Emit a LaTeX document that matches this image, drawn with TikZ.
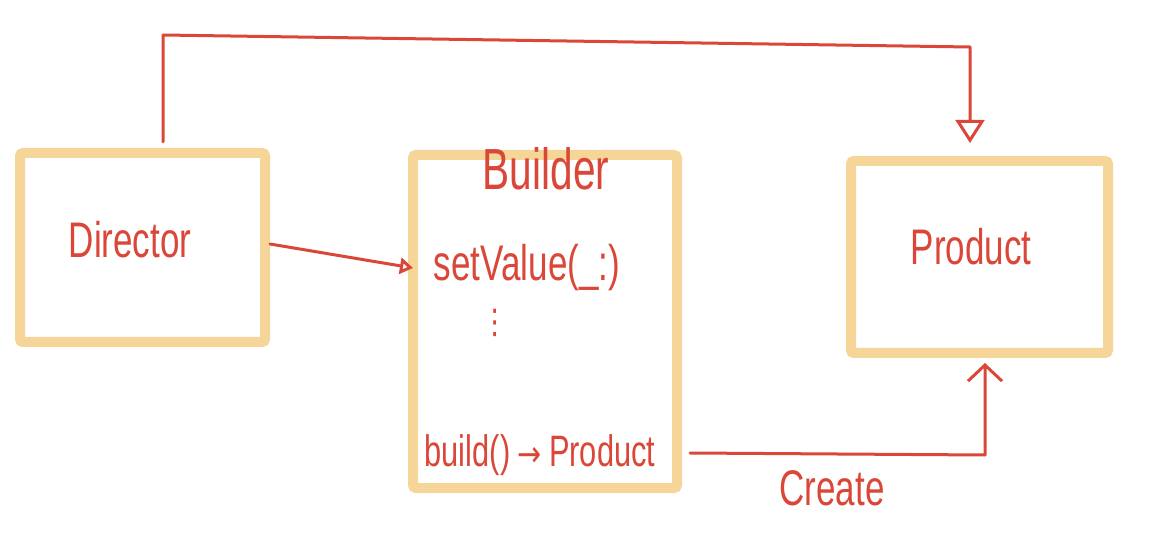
\documentclass[tikz,border=0pt]{standalone}
\usepackage{fontspec}
\usepackage{tikz}
\usetikzlibrary{arrows.meta, positioning, calc}
\newfontfamily\handfont{Liberation Sans}[FakeStretch=0.7]
\newfontfamily\symfont{DejaVu Sans}[FakeStretch=0.8]
\definecolor{boxyellow}{RGB}{246,214,152}
\definecolor{penred}{RGB}{218,70,56}

\begin{document}
\begin{tikzpicture}[
    x=1pt, y=-1pt,
    every node/.style={font=\handfont\fontsize{50}{60}\selectfont, text=penred},
    classbox/.style={rectangle, draw=boxyellow, line width=10pt, rounded corners=3pt, fill=white},
    pen/.style={draw=penred, line width=3pt, line cap=round, line join=round},
    triarrow/.style={pen, -{Triangle[open, length=#1, width=1.25*#1, line width=3pt]}},
    barbarrow/.style={pen, -{Straight Barb[length=16pt, width=34pt, line width=3pt]}}
]
\useasboundingbox (0,0) rectangle (1152,553);

\node[classbox, minimum width=245pt, minimum height=189pt] (director) at (142.5,247.5) {};
\node (dirlabel) at (130,240) {Director};

\node[classbox, minimum width=264pt, minimum height=333pt] (builder) at (545,321.5) {};
\node[font=\handfont\fontsize{58}{66}\selectfont] (buildername) at (546,169) {Builder};
\node (setvalue) at (527,268) {setValue(\_:)};
\node[font=\symfont\fontsize{34}{40}\selectfont] (vdots) at (495,323) {⋮};
\node[font=\handfont\fontsize{44}{52}\selectfont] (buildfn) at (540,455) {build()\,{\symfont\fontsize{36}{40}\selectfont →}\,Product};

\node[classbox, minimum width=257pt, minimum height=192pt] (product) at (979.5,257) {};
\node (prodlabel) at (971,247) {Product};

\draw[triarrow=13pt] ([yshift=3.5pt]director.east) -- ([xshift=5pt]builder.west |- setvalue.center);
\draw[triarrow=23pt, shorten >=13pt] ([xshift=20.5pt, yshift=6pt]director.north) -- (163,35) -- (970,47) -- ([xshift=-9.5pt]product.north);
\draw[barbarrow, shorten >=5pt] ([xshift=8pt]builder.east |- 0,453) -- (985,455) -- ([xshift=5.5pt]product.south);
\node (createlabel) at (832,488) {Create};

\end{tikzpicture}
\end{document}
